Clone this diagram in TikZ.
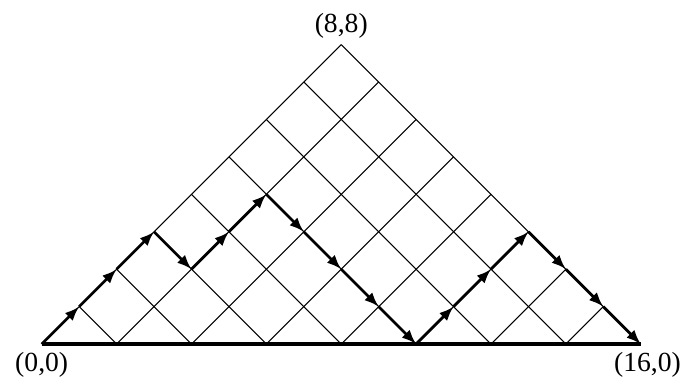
\documentclass[tikz,border=0pt]{standalone}
\usepackage{fontspec}
\setmainfont{Liberation Serif}
\usetikzlibrary{arrows.meta}
\tikzset{
    gridline/.style={line width=0.8pt},
    baseline/.style={line width=2.6pt},
    pathstep/.style={line width=2.1pt, -{Latex[length=11pt,width=8.5pt]}},
    corner/.style={font=\fontsize{21}{25}\selectfont, inner sep=0pt}
}
\begin{document}
\begin{tikzpicture}
    % Fix the frame of the picture
    \useasboundingbox (-1.114,-1.12) rectangle (17.155,9.19);

    % Corners of the triangle
    \coordinate (O) at (0,0);
    \coordinate (T) at (8,8);
    \coordinate (R) at (16,0);

    % Diagonal grid lines
    \foreach \k in {0,...,7}
        \draw[gridline] (2*\k,0) -- (8+\k,8-\k); % up to the right side
    \foreach \k in {1,...,8}
        \draw[gridline] (2*\k,0) -- (\k,\k); % up to the left side

    % Bottom edge
    \draw[baseline] (O) -- (R);

    % Points of the lattice path
    \foreach \h [count=\i from 0] in {0,1,2,3,2,3,4,3,2,1,0,1,2,3,2,1,0}
        \coordinate (P\i) at (\i,\h);

    % Draw the path step by step
    \foreach \i in {1,...,16} {
        \pgfmathtruncatemacro{\j}{\i-1}
        \draw[pathstep] (P\j) -- (P\i);
    }

    % Labels of the corners
    \node[corner] (lO) at (0,-0.56) {(0,0)};
    \node[corner] (lR) at (16.18,-0.56) {(16,0)};
    \node[corner] (lT) at (8,8.49) {(8,8)};
\end{tikzpicture}
\end{document}
